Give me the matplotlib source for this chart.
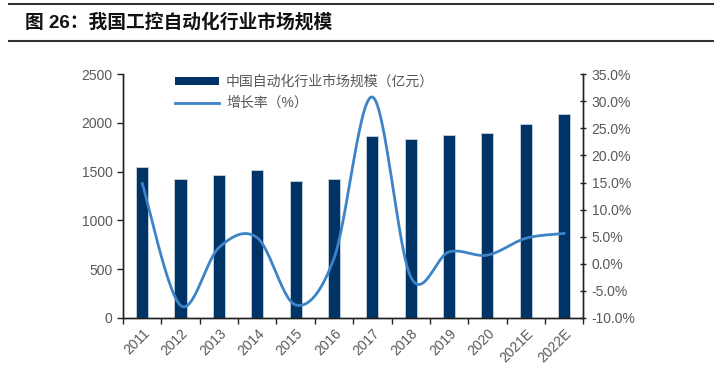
import numpy as np
import matplotlib
matplotlib.use('Agg')
import matplotlib.pyplot as plt
from matplotlib.patches import Patch
from matplotlib.lines import Line2D
from matplotlib.ticker import FuncFormatter

plt.rcParams['font.family'] = ['Liberation Sans', 'Noto Sans CJK SC']

# data
years = ['2011', '2012', '2013', '2014', '2015', '2016', '2017', '2018',
         '2019', '2020', '2021E', '2022E']
market_size = [1550, 1424, 1465, 1516, 1400, 1427, 1865, 1837, 1875, 1902, 1988, 2096]
growth = [14.8, -7.7, 3.0, 4.8, -7.6, 1.0, 30.8, -2.4, 2.2, 1.6, 4.7, 5.6]

bar_color = '#003366'
line_color = '#3d83c6'
text_gray = '#595959'


def smooth(xs, ys, n=30):
    # excel-like smoothed line (catmull-rom bezier)
    xs = np.asarray(xs, float)
    ys = np.asarray(ys, float)
    px, py = [], []
    for i in range(len(xs) - 1):
        x0, y0 = (xs[i - 1], ys[i - 1]) if i > 0 else (xs[i], ys[i])
        x1, y1 = xs[i], ys[i]
        x2, y2 = xs[i + 1], ys[i + 1]
        x3, y3 = (xs[i + 2], ys[i + 2]) if i + 2 < len(xs) else (x2, y2)
        c1x, c1y = x1 + (x2 - x0) / 6, y1 + (y2 - y0) / 6
        c2x, c2y = x2 - (x3 - x1) / 6, y2 - (y3 - y1) / 6
        t = np.linspace(0, 1, n)
        bx = (1-t)**3*x1 + 3*(1-t)**2*t*c1x + 3*(1-t)*t**2*c2x + t**3*x2
        by = (1-t)**3*y1 + 3*(1-t)**2*t*c1y + 3*(1-t)*t**2*c2y + t**3*y2
        px.extend(bx)
        py.extend(by)
    return px, py


fig = plt.figure(figsize=(7.2, 3.71), dpi=100)
ax = fig.add_axes([0.171, 0.143, 0.639, 0.657])
ax2 = ax.twinx()

x = np.arange(len(years))
ax.bar(x, market_size, width=0.32, color=bar_color, edgecolor='#c9d3df', linewidth=0.6, zorder=2)
ax.set_xlim(-0.5, len(years) - 0.5)
ax.set_ylim(0, 2500)
ax.set_yticks(range(0, 2501, 500))

sx, sy = smooth(x, growth)
ax2.plot(sx, sy, color=line_color, linewidth=2, zorder=3)
ax2.set_ylim(-10, 35)
ax2.set_yticks(range(-10, 36, 5))
ax2.yaxis.set_major_formatter(FuncFormatter(lambda v, p: f'{v:.1f}%'))

ax.set_xticks(x)
ax.set_xticklabels(years, rotation=45, ha='right', rotation_mode='anchor')
ax.set_xticks(np.arange(-0.5, len(years), 1), minor=True)
ax.tick_params(axis='x', which='major', length=0, pad=6, labelsize=10, labelcolor=text_gray)
ax.tick_params(axis='x', which='minor', length=4, width=1, direction='out', color='#222222')
ax.tick_params(axis='y', length=4, width=1, direction='out', labelsize=10, labelcolor=text_gray,
               color='#222222')
ax2.tick_params(axis='y', length=5, width=1, direction='inout', labelsize=10, labelcolor=text_gray,
                color='#222222')

for a in (ax, ax2):
    a.spines['top'].set_visible(False)
    for s in ('left', 'right', 'bottom'):
        a.spines[s].set_color('#222222')
        a.spines[s].set_linewidth(1)

handles = [Patch(facecolor=bar_color, edgecolor='none'),
           Line2D([0], [0], color=line_color, linewidth=2)]
labels = ['中国自动化行业市场规模（亿元）', '增长率（%）']
leg = ax2.legend(handles, labels, loc='upper left', bbox_to_anchor=(0.085, 1.05),
                 frameon=False, handlelength=3.2, handleheight=0.5, fontsize=10,
                 labelspacing=0.55, handletextpad=0.5)
for t in leg.get_texts():
    t.set_color(text_gray)

# title with rules above and below
fig.text(0.035, 0.94, '图 26：我国工控自动化行业市场规模', fontsize=13.5, fontweight='bold',
         va='center', ha='left', color='#111111')
fig.add_artist(Line2D([0.012, 0.99], [0.988, 0.988], color='#333333', linewidth=1.5))
fig.add_artist(Line2D([0.012, 0.99], [0.89, 0.89], color='#333333', linewidth=1.5))

fig.savefig('out.png', dpi=100)
